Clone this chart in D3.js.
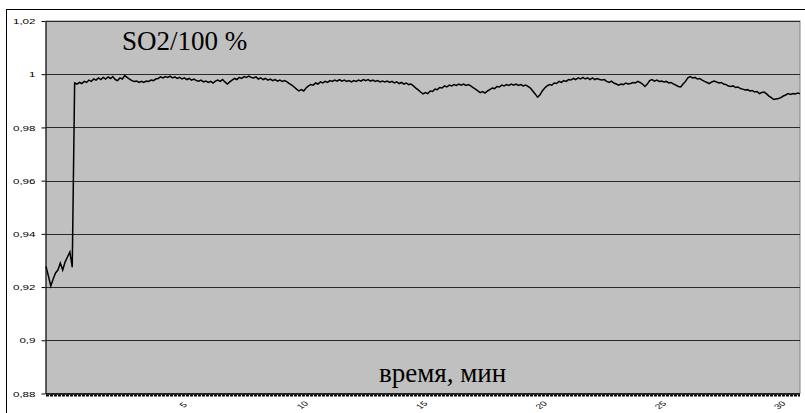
<!DOCTYPE html>
<html>
<head>
<meta charset="utf-8">
<script src="https://cdn.jsdelivr.net/npm/d3@7"></script>
<style>
  body { margin: 0; background: #fff; }
  svg { display: block; }
  .sans { font-family: "Liberation Sans", Arial, Helvetica, sans-serif; }
  .serif { font-family: "Liberation Serif", "Times New Roman", Times, "DejaVu Serif", serif; }
</style>
</head>
<body>
<svg id="chart" width="805" height="413"></svg>
<script>
// SO2 conversion record, one reading every 6 s
const sampleStart = -0.75;   // min
const sampleStep = 0.1;      // min
const so2Values = [
  0.9278, 0.9242, 0.9204, 0.9230, 0.9253, 0.9264, 0.9290, 0.9264, 0.9294, 0.9313,
  0.9332, 0.9275, 0.9967, 0.9963, 0.9969, 0.9965, 0.9973, 0.9969, 0.9978, 0.9973,
  0.9982, 0.9978, 0.9986, 0.9980, 0.9988, 0.9982, 0.9990, 0.9984, 0.9991, 0.9980,
  0.9976, 0.9986, 0.9982, 0.9995, 0.9988, 0.9982, 0.9976, 0.9973, 0.9974, 0.9969,
  0.9973, 0.9969, 0.9974, 0.9973, 0.9978, 0.9976, 0.9982, 0.9984, 0.9990, 0.9986,
  0.9991, 0.9988, 0.9993, 0.9986, 0.9990, 0.9984, 0.9988, 0.9982, 0.9986, 0.9980,
  0.9984, 0.9978, 0.9982, 0.9976, 0.9974, 0.9978, 0.9971, 0.9974, 0.9969, 0.9973,
  0.9967, 0.9974, 0.9978, 0.9973, 0.9980, 0.9971, 0.9963, 0.9971, 0.9978, 0.9984,
  0.9980, 0.9988, 0.9984, 0.9991, 0.9988, 0.9993, 0.9988, 0.9986, 0.9990, 0.9982,
  0.9986, 0.9980, 0.9984, 0.9978, 0.9982, 0.9976, 0.9980, 0.9974, 0.9978, 0.9973,
  0.9976, 0.9971, 0.9965, 0.9959, 0.9952, 0.9944, 0.9937, 0.9942, 0.9937, 0.9948,
  0.9956, 0.9961, 0.9959, 0.9967, 0.9963, 0.9971, 0.9967, 0.9973, 0.9969, 0.9976,
  0.9973, 0.9978, 0.9974, 0.9980, 0.9974, 0.9978, 0.9973, 0.9976, 0.9971, 0.9976,
  0.9973, 0.9978, 0.9974, 0.9980, 0.9976, 0.9980, 0.9974, 0.9978, 0.9973, 0.9976,
  0.9971, 0.9974, 0.9971, 0.9974, 0.9969, 0.9973, 0.9967, 0.9971, 0.9965, 0.9969,
  0.9963, 0.9967, 0.9961, 0.9963, 0.9956, 0.9948, 0.9941, 0.9933, 0.9926, 0.9931,
  0.9927, 0.9937, 0.9935, 0.9944, 0.9942, 0.9950, 0.9948, 0.9956, 0.9952, 0.9959,
  0.9956, 0.9961, 0.9958, 0.9963, 0.9959, 0.9963, 0.9958, 0.9961, 0.9956, 0.9950,
  0.9944, 0.9937, 0.9931, 0.9935, 0.9929, 0.9937, 0.9942, 0.9948, 0.9946, 0.9954,
  0.9952, 0.9959, 0.9956, 0.9961, 0.9958, 0.9963, 0.9959, 0.9963, 0.9958, 0.9961,
  0.9956, 0.9959, 0.9954, 0.9948, 0.9937, 0.9926, 0.9914, 0.9922, 0.9937, 0.9948,
  0.9956, 0.9961, 0.9959, 0.9967, 0.9965, 0.9973, 0.9969, 0.9976, 0.9973, 0.9980,
  0.9978, 0.9984, 0.9980, 0.9986, 0.9982, 0.9988, 0.9982, 0.9986, 0.9980, 0.9986,
  0.9980, 0.9984, 0.9980, 0.9978, 0.9980, 0.9973, 0.9969, 0.9974, 0.9967, 0.9963,
  0.9959, 0.9963, 0.9961, 0.9967, 0.9963, 0.9965, 0.9969, 0.9967, 0.9973, 0.9969,
  0.9963, 0.9954, 0.9963, 0.9976, 0.9980, 0.9974, 0.9978, 0.9973, 0.9974, 0.9971,
  0.9973, 0.9967, 0.9969, 0.9963, 0.9959, 0.9954, 0.9952, 0.9963, 0.9973, 0.9986,
  0.9991, 0.9986, 0.9988, 0.9982, 0.9984, 0.9978, 0.9973, 0.9969, 0.9965, 0.9971,
  0.9974, 0.9971, 0.9967, 0.9969, 0.9963, 0.9961, 0.9956, 0.9954, 0.9956, 0.9950,
  0.9952, 0.9946, 0.9944, 0.9941, 0.9942, 0.9937, 0.9939, 0.9933, 0.9935, 0.9927,
  0.9931, 0.9933, 0.9926, 0.9918, 0.9912, 0.9905, 0.9907, 0.9909, 0.9912, 0.9918,
  0.9922, 0.9927, 0.9924, 0.9927, 0.9926, 0.9929, 0.9927
];
const yTicks = [0.88, 0.9, 0.92, 0.94, 0.96, 0.98, 1, 1.02];
const xTicks = [5, 10, 15, 20, 25, 30];
const seriesTitle = "SO2/100 %";
const xAxisTitle = "время, мин";

const readings = so2Values.map((v, i) => ({ t: sampleStart + i * sampleStep, v }));

const svg = d3.select("#chart");
const plot = { left: 46, right: 800, top: 21, bottom: 393.5 };

const x = d3.scaleLinear()
  .domain([sampleStart, sampleStart + (so2Values.length - 1) * sampleStep])
  .range([plot.left, plot.right]);
const y = d3.scaleLinear()
  .domain([0.88, 1.02])
  .range([plot.bottom, plot.top]);

const ruLocale = d3.formatLocale({ decimal: ",", thousands: " ", grouping: [3], currency: ["", ""] });
const fmt = ruLocale.format("~g");

// outer chart frame
svg.append("rect")
  .attr("x", 6.5).attr("y", 9.5)
  .attr("width", 820).attr("height", 420)
  .attr("fill", "#fff").attr("stroke", "#000").attr("stroke-width", 1);

// plot area
svg.append("rect")
  .attr("x", plot.left).attr("y", plot.top)
  .attr("width", plot.right - plot.left).attr("height", plot.bottom - plot.top)
  .attr("fill", "#c0c0c0").attr("stroke", "#808080").attr("stroke-width", 1);

// horizontal gridlines
svg.append("g")
  .selectAll("line")
  .data(yTicks.filter(d => d > 0.88))
  .join("line")
  .attr("x1", plot.left).attr("x2", plot.right)
  .attr("y1", d => Math.round(y(d)) + 0.5).attr("y2", d => Math.round(y(d)) + 0.5)
  .attr("stroke", "#2a2a2a").attr("stroke-width", 1);

// y axis
const yAxis = svg.append("g")
  .attr("transform", `translate(${plot.left - 0.5},0)`)
  .call(d3.axisLeft(y).tickValues(yTicks).tickFormat(fmt).tickSize(4).tickSizeOuter(0));
yAxis.attr("font-family", null).attr("font-size", null);
yAxis.select(".domain").attr("stroke", "#000");
yAxis.selectAll(".tick line").attr("stroke", "#000");
yAxis.selectAll(".tick text")
  .attr("class", "sans")
  .style("font-size", "8px")
  .attr("fill", "#000")
  .attr("x", -10 / 1.45)
  .attr("transform", "scale(1.45,1)");

// x axis: baseline with dense category tick marks
svg.append("line")
  .attr("x1", plot.left).attr("x2", plot.right)
  .attr("y1", plot.bottom + 0.5).attr("y2", plot.bottom + 0.5)
  .attr("stroke", "#000").attr("stroke-width", 1.5);
svg.append("line")
  .attr("x1", plot.left).attr("x2", plot.right)
  .attr("y1", plot.bottom + 2).attr("y2", plot.bottom + 2)
  .attr("stroke", "#000").attr("stroke-width", 2)
  .attr("stroke-dasharray", "3,1");

svg.append("g")
  .selectAll("text")
  .data(xTicks)
  .join("text")
  .attr("class", "sans")
  .attr("transform", d => `translate(${x(d)},405) scale(1.45,1) rotate(-45)`)
  .attr("text-anchor", "middle")
  .attr("dy", "0.35em")
  .style("font-size", "7px")
  .attr("fill", "#000")
  .text(d => d);

// SO2 line
const line = d3.line()
  .x(d => x(d.t))
  .y(d => y(d.v));
svg.append("path")
  .datum(readings)
  .attr("d", line)
  .attr("fill", "none")
  .attr("stroke", "#000")
  .attr("stroke-width", 1.5)
  .attr("stroke-linejoin", "miter");

// titles
svg.append("text")
  .attr("class", "serif")
  .attr("x", 122).attr("y", 50)
  .style("font-size", "27px")
  .attr("fill", "#000")
  .text(seriesTitle);
svg.append("text")
  .attr("class", "serif")
  .attr("x", 379).attr("y", 382)
  .style("font-size", "27px")
  .attr("fill", "#000")
  .text(xAxisTitle);
</script>
</body>
</html>
